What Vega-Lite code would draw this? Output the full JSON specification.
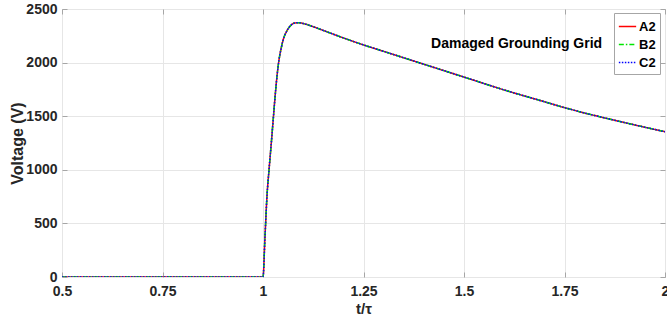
{
  "$schema": "https://vega.github.io/schema/vega-lite/v6.json",
  "width": 603,
  "height": 268,
  "autosize": {"type": "none"},
  "padding": {"left": 62, "top": 9, "right": 2, "bottom": 45},
  "background": "white",
  "config": {
    "font": "Liberation Sans",
    "view": {"stroke": "#a6a6a6", "strokeWidth": 1},
    "legend": {
      "orient": "none",
      "legendX": 552,
      "legendY": 4,
      "fillColor": "white",
      "strokeColor": "#a6a6a6",
      "padding": 4,
      "symbolType": "stroke",
      "symbolSize": 300,
      "symbolStrokeWidth": 1.5,
      "labelFont": "Liberation Sans",
      "labelFontSize": 13,
      "labelFontWeight": "bold",
      "labelColor": "#000000",
      "rowPadding": 1,
      "labelOffset": 2,
      "cornerRadius": 0
    }
  },
  "data": {
    "values": [
      {"t": 0.5, "A2": 0, "B2": 0, "C2": 0},
      {"t": 1.0, "A2": 0, "B2": 0, "C2": 0},
      {"t": 1.005, "A2": 380, "B2": 380, "C2": 380},
      {"t": 1.01, "A2": 760, "B2": 760, "C2": 760},
      {"t": 1.015, "A2": 1000, "B2": 1000, "C2": 1000},
      {"t": 1.02, "A2": 1220, "B2": 1220, "C2": 1220},
      {"t": 1.025, "A2": 1450, "B2": 1450, "C2": 1450},
      {"t": 1.03, "A2": 1680, "B2": 1680, "C2": 1680},
      {"t": 1.035, "A2": 1880, "B2": 1880, "C2": 1880},
      {"t": 1.04, "A2": 2030, "B2": 2030, "C2": 2030},
      {"t": 1.045, "A2": 2130, "B2": 2130, "C2": 2130},
      {"t": 1.05, "A2": 2210, "B2": 2210, "C2": 2210},
      {"t": 1.06, "A2": 2300, "B2": 2300, "C2": 2300},
      {"t": 1.07, "A2": 2350, "B2": 2350, "C2": 2350},
      {"t": 1.08, "A2": 2370, "B2": 2370, "C2": 2370},
      {"t": 1.09, "A2": 2372, "B2": 2372, "C2": 2372},
      {"t": 1.1, "A2": 2365, "B2": 2365, "C2": 2365},
      {"t": 1.125, "A2": 2335, "B2": 2335, "C2": 2335},
      {"t": 1.15, "A2": 2300, "B2": 2300, "C2": 2300},
      {"t": 1.2, "A2": 2230, "B2": 2230, "C2": 2230},
      {"t": 1.25, "A2": 2165, "B2": 2165, "C2": 2165},
      {"t": 1.3, "A2": 2105, "B2": 2105, "C2": 2105},
      {"t": 1.35, "A2": 2045, "B2": 2045, "C2": 2045},
      {"t": 1.4, "A2": 1985, "B2": 1985, "C2": 1985},
      {"t": 1.45, "A2": 1925, "B2": 1925, "C2": 1925},
      {"t": 1.5, "A2": 1865, "B2": 1865, "C2": 1865},
      {"t": 1.6, "A2": 1745, "B2": 1745, "C2": 1745},
      {"t": 1.7, "A2": 1635, "B2": 1635, "C2": 1635},
      {"t": 1.75, "A2": 1580, "B2": 1580, "C2": 1580},
      {"t": 1.8, "A2": 1530, "B2": 1530, "C2": 1530},
      {"t": 1.9, "A2": 1440, "B2": 1440, "C2": 1440},
      {"t": 2.0, "A2": 1355, "B2": 1355, "C2": 1355}
    ]
  },
  "resolve": {"axis": {"x": "independent", "y": "independent"}},
  "layer": [
    {
      "transform": [{"fold": ["A2", "B2", "C2"], "as": ["series", "v"]}],
      "mark": {"type": "line", "strokeWidth": 1.5, "interpolate": "monotone", "clip": true},
      "encoding": {
        "x": {
          "field": "t",
          "type": "quantitative",
          "scale": {"domain": [0.5, 2], "nice": false, "zero": false},
          "axis": {
            "title": "t/τ",
            "values": [0.5, 0.75, 1, 1.25, 1.5, 1.75, 2],
            "labelExpr": "datum.value",
            "labelFlush": false,
            "labelOverlap": false,
            "labelBound": false,
            "labelFont": "Liberation Sans",
            "labelFontSize": 14,
            "labelFontWeight": "bold",
            "labelColor": "#262626",
            "labelPadding": 12,
            "ticks": true,
            "tickSize": -5,
            "tickColor": "#a6a6a6",
            "domain": false,
            "grid": true,
            "gridColor": "#e6e6e6",
            "titleFont": "Liberation Sans",
            "titleFontSize": 15,
            "titleFontWeight": "bold",
            "titleColor": "#262626",
            "titleBaseline": "middle",
            "titleY": 31
          }
        },
        "y": {
          "field": "v",
          "type": "quantitative",
          "scale": {"domain": [0, 2500], "nice": false},
          "axis": {
            "title": "Voltage (V)",
            "values": [0, 500, 1000, 1500, 2000, 2500],
            "labelExpr": "datum.value",
            "labelFont": "Liberation Sans",
            "labelFontSize": 14,
            "labelFontWeight": "bold",
            "labelColor": "#262626",
            "labelPadding": 10,
            "labelOverlap": false,
            "labelFlush": false,
            "labelBound": false,
            "ticks": true,
            "tickSize": -5,
            "tickColor": "#a6a6a6",
            "domain": false,
            "grid": true,
            "gridColor": "#e6e6e6",
            "titleFont": "Liberation Sans",
            "titleFontSize": 16,
            "titleFontWeight": "bold",
            "titleColor": "#262626",
            "titleX": -45,
            "titleY": 134,
            "titleBaseline": "middle",
            "titleAngle": -90
          }
        },
        "color": {
          "field": "series",
          "type": "nominal",
          "scale": {"domain": ["A2", "B2", "C2"], "range": ["#ff0000", "#00e600", "#0000ff"]},
          "legend": {"title": null}
        },
        "strokeDash": {
          "field": "series",
          "type": "nominal",
          "scale": {"domain": ["A2", "B2", "C2"], "range": [[1, 0], [5, 2, 1.5, 2], [1.5, 1.5]]},
          "legend": {"title": null}
        }
      }
    },
    {
      "data": {"values": [{"t": 1.418, "v": 2172, "label": "Damaged Grounding Grid"}]},
      "mark": {"type": "text", "align": "left", "baseline": "middle", "font": "Liberation Sans", "fontSize": 14, "fontWeight": "bold", "color": "#000000"},
      "encoding": {
        "x": {
          "field": "t",
          "type": "quantitative",
          "axis": {
            "orient": "top",
            "title": null,
            "values": [0.5, 0.75, 1, 1.25, 1.5, 1.75, 2],
            "labels": false,
            "ticks": true,
            "tickSize": -5,
            "tickColor": "#a6a6a6",
            "domain": false,
            "grid": false
          }
        },
        "y": {
          "field": "v",
          "type": "quantitative",
          "axis": {
            "orient": "right",
            "title": null,
            "values": [0, 500, 1000, 1500, 2000, 2500],
            "labels": false,
            "ticks": true,
            "tickSize": -5,
            "tickColor": "#a6a6a6",
            "domain": false,
            "grid": false
          }
        },
        "text": {"field": "label", "type": "nominal"}
      }
    }
  ]
}
